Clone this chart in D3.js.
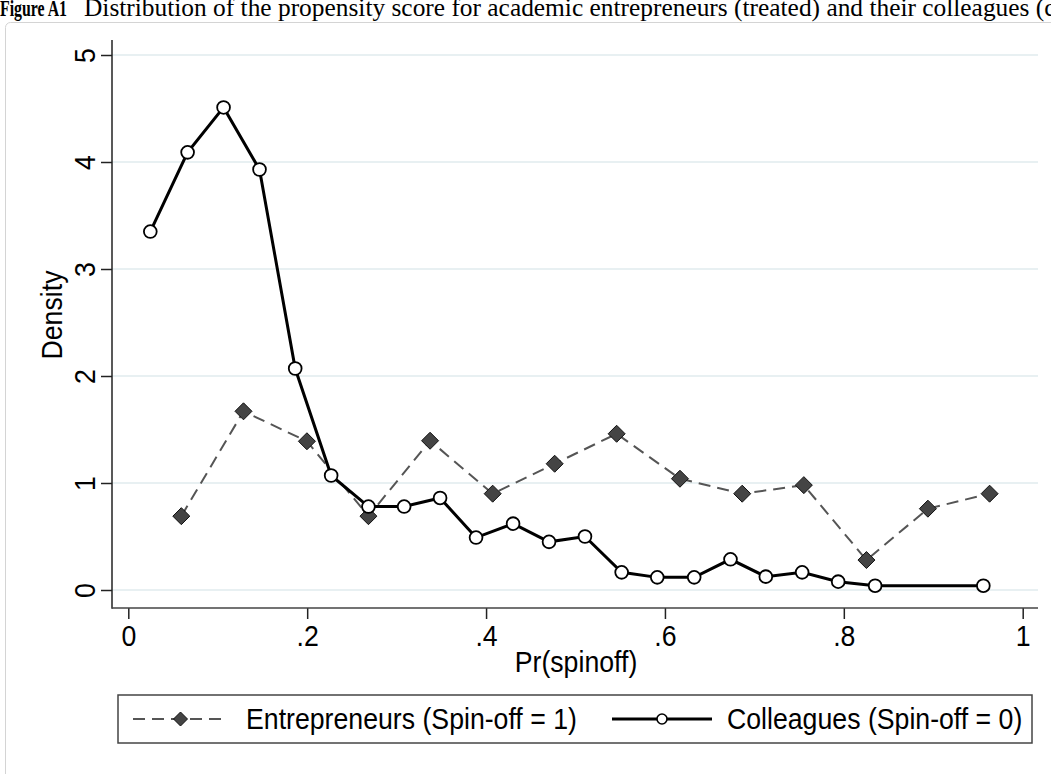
<!DOCTYPE html>
<html>
<head>
<meta charset="utf-8">
<script src="https://cdn.jsdelivr.net/npm/d3@7"></script>
<style>
  body { margin: 0; background: #fff; }
  svg { display: block; }
  text { font-family: "Liberation Sans", Arial, sans-serif; fill: #000; }
</style>
</head>
<body>
<svg id="chart" width="1051" height="774"></svg>
<script>
// bin midpoints and densities
var colleaguesX = [0.0246, 0.0663, 0.1065, 0.1467, 0.1866, 0.2268, 0.2685, 0.3084, 0.3486, 0.3888,
                   0.4302, 0.4704, 0.5106, 0.5516, 0.5914, 0.6327, 0.6733, 0.7128, 0.7534, 0.7937,
                   0.835, 0.956]
  , colleaguesY = [3.35, 4.09, 4.51, 3.93, 2.07, 1.07, 0.78, 0.78, 0.86, 0.49,
                   0.62, 0.45, 0.50, 0.165, 0.118, 0.118, 0.287, 0.125, 0.165, 0.078,
                   0.04, 0.04]
  , entrepreneursX = [0.0593, 0.1288, 0.1997, 0.2685, 0.3374, 0.4074, 0.4767, 0.546, 0.6168, 0.6864,
                      0.7553, 0.8253, 0.894, 0.963]
  , entrepreneursY = [0.69, 1.67, 1.39, 0.69, 1.395, 0.90, 1.18, 1.46, 1.04, 0.90,
                      0.98, 0.28, 0.76, 0.90]
  , xTicks = [0, 0.2, 0.4, 0.6, 0.8, 1]
  , xTickLabels = ['0', '.2', '.4', '.6', '.8', '1']
  , yTicks = [0, 1, 2, 3, 4, 5]
  , yTickLabels = ['0', '1', '2', '3', '4', '5']
  , legendLabels = ['Entrepreneurs (Spin-off = 1)', 'Colleagues (Spin-off = 0)']

var svg = d3.select('#chart')
  , squeeze = 0.92   // the Stata font is rendered a bit narrow
  , fontSize = '29px'
  , plot = {left: 112, right: 1038, top: 40, bottom: 608}

var x = d3.scaleLinear().domain([0, 1]).range([128.3, 1022.7])
  , y = d3.scaleLinear().domain([0, 5]).range([590, 55])

var zip = function(xs, ys) { return xs.map(function(v, i) { return {x: v, y: ys[i]} }) }
var colleagues = zip(colleaguesX, colleaguesY)
  , entrepreneurs = zip(entrepreneursX, entrepreneursY)

// caption (runs off the right edge in the original)
var serif = '"Liberation Serif", "Times New Roman", serif'
svg.append('text').attr('transform', 'translate(0,16) scale(0.66,1)')
  .style('font-family', serif).style('font-size', '24px').style('font-weight', 'bold')
  .text('Figure A1')
svg.append('text').attr('x', 84).attr('y', 16)
  .style('font-family', serif).style('font-size', '25.4px')
  .text('Distribution of the propensity score for academic entrepreneurs (treated) and their colleagues (control)')

// graph region outline
svg.append('rect')
  .attr('x', 5.5).attr('y', 22.5).attr('width', 1100).attr('height', 800).attr('rx', 5)
  .attr('fill', 'none').attr('stroke', '#d4d4d4').attr('stroke-width', 1)

// grid lines
svg.append('g').selectAll('line').data(yTicks)
  .enter().append('line')
  .attr('x1', plot.left).attr('x2', plot.right)
  .attr('y1', function(d) { return y(d) }).attr('y2', function(d) { return y(d) })
  .attr('stroke', '#e8f0f2').attr('stroke-width', 2)

// axes
var yAxis = svg.append('g').attr('transform', 'translate(' + plot.left + ',0)')
  .call(d3.axisLeft(y).tickValues(yTicks).tickSize(11)
    .tickFormat(function(d, i) { return yTickLabels[i] }))
var xAxis = svg.append('g').attr('transform', 'translate(0,' + plot.bottom + ')')
  .call(d3.axisBottom(x).tickValues(xTicks).tickSize(11)
    .tickFormat(function(d, i) { return xTickLabels[i] }))

yAxis.select('.domain').remove()
xAxis.select('.domain').remove()
svg.append('line').attr('x1', plot.left).attr('x2', plot.left).attr('y1', plot.top).attr('y2', plot.bottom + 0.75)
  .attr('stroke', '#222').attr('stroke-width', 1.5)
svg.append('line').attr('x1', plot.left).attr('x2', plot.right).attr('y1', plot.bottom).attr('y2', plot.bottom)
  .attr('stroke', '#444').attr('stroke-width', 1.5)

yAxis.selectAll('.tick line').attr('stroke', '#222').attr('stroke-width', 1.5)
xAxis.selectAll('.tick line').attr('stroke', '#222').attr('stroke-width', 1.5)

yAxis.selectAll('.tick text')
  .attr('x', null).attr('dy', null).attr('text-anchor', 'middle')
  .attr('transform', 'translate(-17,0) rotate(-90) scale(' + squeeze + ',1)')
  .style('font-size', fontSize).style('font-family', null).attr('fill', '#000')
xAxis.selectAll('.tick text')
  .attr('y', 38).attr('dy', null)
  .attr('transform', 'scale(' + squeeze + ',1)')
  .style('font-size', fontSize).style('font-family', null).attr('fill', '#000')

// axis titles
svg.append('text')
  .attr('transform', 'translate(62,315) rotate(-90) scale(' + squeeze + ',1)')
  .attr('text-anchor', 'middle').style('font-size', fontSize).text('Density')
svg.append('text')
  .attr('transform', 'translate(576,672) scale(' + squeeze + ',1)')
  .attr('text-anchor', 'middle').style('font-size', fontSize).text('Pr(spinoff)')

// series
var line = d3.line().x(function(d) { return x(d.x) }).y(function(d) { return y(d.y) })
var diamond = function(s) { return 'M0,' + (-s) + 'L' + s + ',0L0,' + s + 'L' + (-s) + ',0Z' }

svg.append('path').datum(entrepreneurs).attr('d', line)
  .attr('fill', 'none').attr('stroke', '#555').attr('stroke-width', 2).attr('stroke-dasharray', '12,7')
svg.append('path').datum(colleagues).attr('d', line)
  .attr('fill', 'none').attr('stroke', '#000').attr('stroke-width', 3)

svg.append('g').selectAll('path').data(entrepreneurs)
  .enter().append('path')
  .attr('transform', function(d) { return 'translate(' + x(d.x) + ',' + y(d.y) + ')' })
  .attr('d', diamond(8.5))
  .attr('fill', '#444').attr('stroke', '#111').attr('stroke-width', 1)

svg.append('g').selectAll('circle').data(colleagues)
  .enter().append('circle')
  .attr('cx', function(d) { return x(d.x) }).attr('cy', function(d) { return y(d.y) })
  .attr('r', 6.4)
  .attr('fill', '#fff').attr('stroke', '#000').attr('stroke-width', 1.8)

// legend
var legend = svg.append('g')
legend.append('rect').attr('x', 118).attr('y', 695).attr('width', 914).attr('height', 48)
  .attr('fill', '#fff').attr('stroke', '#444').attr('stroke-width', 1.5)

var keys = [
  {x1: 133, x2: 228, label: legendLabels[0], tx: 246, kind: 'diamond'},
  {x1: 612, x2: 712, label: legendLabels[1], tx: 727, kind: 'circle'}
]
keys.forEach(function(k) {
  var cy = 719, cx = (k.x1 + k.x2) / 2
  if (k.kind === 'diamond') {
    legend.append('line').attr('x1', k.x1).attr('x2', k.x2).attr('y1', cy).attr('y2', cy)
      .attr('stroke', '#555').attr('stroke-width', 2).attr('stroke-dasharray', '12,7')
    legend.append('path').attr('transform', 'translate(' + cx + ',' + cy + ')').attr('d', diamond(7))
      .attr('fill', '#444').attr('stroke', '#111').attr('stroke-width', 1)
  } else {
    legend.append('line').attr('x1', k.x1).attr('x2', k.x2).attr('y1', cy).attr('y2', cy)
      .attr('stroke', '#000').attr('stroke-width', 3)
    legend.append('circle').attr('cx', cx).attr('cy', cy).attr('r', 5)
      .attr('fill', '#fff').attr('stroke', '#000').attr('stroke-width', 1.6)
  }
  legend.append('text')
    .attr('transform', 'translate(' + k.tx + ',' + (cy + 10) + ') scale(' + squeeze + ',1)')
    .style('font-size', fontSize).text(k.label)
})
</script>
</body>
</html>
